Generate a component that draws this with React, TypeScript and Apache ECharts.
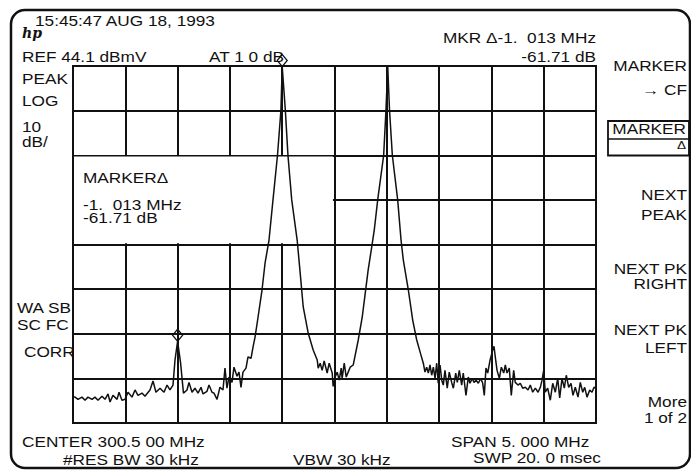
import React, { useEffect, useRef } from "react";
import * as echarts from "echarts";

// Frequency axis (MHz): CENTER 300.5 MHz, SPAN 5 MHz, 10 divisions
const freqStartMHz = 298.0;
const freqStopMHz = 303.0;
const freqPerDivMHz = 0.5;

// Amplitude axis: dB relative to REF 44.1 dBmV, 10 dB/div, 8 divisions
const levelTopDb = 0;
const levelBottomDb = -80;
const dbPerDiv = 10;

// Trace
const traceFreqMHz = [
  298.0, 298.019, 298.048, 298.086, 298.115, 298.143, 298.182, 298.21, 298.239, 298.277,
  298.306, 298.335, 298.354, 298.382, 298.421, 298.44, 298.468, 298.497, 298.526, 298.564,
  298.593, 298.621, 298.66, 298.688, 298.736, 298.765, 298.793, 298.832, 298.87, 298.899,
  298.927, 298.956, 298.975, 299.0, 299.028, 299.056, 299.09, 299.109, 299.138, 299.166,
  299.195, 299.224, 299.243, 299.281, 299.3, 299.329, 299.348, 299.377, 299.405, 299.434,
  299.453, 299.472, 299.491, 299.52, 299.539, 299.568, 299.587, 299.606, 299.625, 299.654,
  299.673, 299.702, 299.721, 299.74, 299.769, 299.807, 299.836, 299.874, 299.912, 299.955,
  299.988, 300.0, 300.03, 300.055, 300.091, 300.143, 300.172, 300.201, 300.249, 300.297,
  300.335, 300.344, 300.363, 300.382, 300.401, 300.43, 300.449, 300.478, 300.487, 300.506,
  300.526, 300.545, 300.564, 300.573, 300.593, 300.612, 300.631, 300.65, 300.679, 300.698,
  300.727, 300.765, 300.794, 300.822, 300.851, 300.88, 300.913, 300.97, 300.992, 301.009,
  301.026, 301.053, 301.104, 301.136, 301.158, 301.206, 301.248, 301.286, 301.322, 301.349,
  301.365, 301.381, 301.397, 301.413, 301.429, 301.445, 301.461, 301.477, 301.492, 301.509,
  301.525, 301.54, 301.556, 301.578, 301.597, 301.62, 301.636, 301.659, 301.674, 301.693,
  301.716, 301.731, 301.757, 301.779, 301.795, 301.817, 301.834, 301.853, 301.875, 301.898,
  301.917, 301.932, 301.948, 301.965, 301.987, 302.012, 302.025, 302.037, 302.054, 302.076,
  302.095, 302.118, 302.133, 302.149, 302.171, 302.19, 302.213, 302.228, 302.254, 302.276,
  302.299, 302.324, 302.35, 302.372, 302.395, 302.42, 302.446, 302.468, 302.484, 302.5,
  302.515, 302.538, 302.563, 302.586, 302.611, 302.634, 302.653, 302.675, 302.697, 302.716,
  302.739, 302.761, 302.78, 302.802, 302.828, 302.85, 302.873, 302.892, 302.914, 302.94,
  302.962, 302.981, 303.0,
];
const traceLevelDb = [
  -74.2, -74.2, -74.7, -74.2, -74.9, -74.2, -74.7, -74.2, -74.9, -74.0,
  -74.7, -73.5, -75.3, -73.8, -74.7, -73.1, -74.9, -74.7, -73.1, -74.2,
  -72.6, -73.8, -73.3, -74.0, -72.6, -70.6, -73.1, -72.2, -73.1, -71.5,
  -72.6, -71.5, -65.9, -61.7, -66.4, -73.3, -72.6, -70.9, -73.1, -72.2,
  -73.3, -72.0, -73.5, -72.9, -71.5, -73.1, -73.3, -74.7, -72.0, -72.6,
  -67.7, -72.2, -69.7, -70.9, -67.5, -69.5, -68.6, -72.0, -68.6, -67.7,
  -65.2, -65.5, -63.0, -60.8, -56.3, -50.2, -44.2, -39.0, -30.0, -20.0,
  -9.9, -0.1, -9.9, -20.0, -30.0, -39.0, -46.4, -54.0, -59.9, -63.7,
  -65.9, -67.7, -66.6, -68.2, -66.1, -68.8, -66.6, -68.8, -71.8, -69.7,
  -68.6, -70.4, -67.7, -70.0, -66.6, -69.7, -68.6, -67.5, -67.0, -64.8,
  -61.4, -56.3, -50.9, -45.7, -41.3, -36.8, -30.0, -20.0, -9.9, -0.2,
  -9.9, -20.0, -30.0, -39.0, -43.5, -50.2, -57.0, -61.4, -64.4, -66.6,
  -68.6, -67.5, -68.8, -67.0, -69.3, -67.5, -70.0, -66.6, -71.1, -67.0,
  -70.4, -71.5, -68.2, -72.2, -68.6, -70.9, -72.2, -68.8, -70.9, -68.2,
  -71.5, -68.8, -73.8, -69.7, -71.1, -70.0, -70.9, -70.4, -71.1, -70.0,
  -71.1, -73.8, -67.7, -68.8, -65.9, -63.7, -62.8, -65.2, -68.2, -70.0,
  -67.5, -68.8, -67.0, -68.8, -67.7, -73.8, -68.2, -70.9, -71.5, -71.1,
  -72.2, -72.0, -72.6, -71.5, -73.1, -72.2, -73.1, -72.0, -70.4, -68.2,
  -73.1, -72.2, -74.9, -71.1, -73.1, -70.0, -74.4, -70.0, -72.2, -69.3,
  -72.0, -71.1, -73.8, -72.0, -74.2, -70.9, -73.1, -72.0, -74.2, -72.6,
  -73.1, -72.0, -72.2,
];

// Markers (reference marker on main peak, delta marker on spur)
const markerFreqMHz = [300.0, 299.0];
const markerLevelDb = [-0.1, -61.7];

// Annotation box region inside graticule (data coords)
const boxFreqMHz = [298.0, 300.485];
const boxLevelDb = [-20.3, -39.7];

// Screen annotations
const leftLabels = ["15:45:47 AUG 18, 1993", "REF 44.1 dBmV", "AT 1 0 dB", "PEAK", "LOG", "10", "dB/", "WA SB", "SC FC", "CORR"];
const markerReadout = ["MKR Δ-1.  013 MHz", "-61.71 dB"];
const boxReadout = ["MARKERΔ", "-1.  013 MHz", "-61.71 dB"];
const softkeyLabels = ["MARKER", "→ CF", "MARKER", "Δ", "NEXT", "PEAK", "NEXT PK", "RIGHT", "NEXT PK", "LEFT", "More", "1 of 2"];
const footerLabels = ["CENTER 300.5 00 MHz", "#RES BW 30 kHz", "VBW 30 kHz", "SPAN 5. 000 MHz", "SWP 20. 0 msec"];

const FONT = "'Liberation Sans', Arial, Helvetica, sans-serif";
const SX = 1.23;
const INK = "#111";

function txt(text: string, x: number, y: number, align: string = "left", size: number = 14) {
  return {
    type: "text",
    x,
    y,
    scaleX: SX,
    z: 10,
    silent: true,
    style: {
      text,
      fill: INK,
      fontSize: size,
      fontFamily: FONT,
      align,
      verticalAlign: "top",
    },
  };
}

export default function App() {
  const ref = useRef<HTMLDivElement>(null);
  useEffect(() => {
    if (!ref.current) return;
    const chart = echarts.init(ref.current, null, { renderer: "svg" });
    const trace = traceFreqMHz.map((f, i) => [f, traceLevelDb[i]]);
    const lineStyle = { color: INK, width: 2 };

    const graphics: any[] = [
      {
        type: "rect",
        z: 10,
        silent: true,
        shape: { x: 11, y: 10, width: 679, height: 458, r: 14 },
        style: { fill: "none", stroke: INK, lineWidth: 2.5 },
      },
      {
        type: "rect",
        z: 10,
        silent: true,
        shape: { x: 73, y: 66, width: 523, height: 357 },
        style: { fill: "none", stroke: INK, lineWidth: 2 },
      },
      {
        type: "rect",
        z: 10,
        silent: true,
        shape: { x: 608, y: 121, width: 81, height: 34.5 },
        style: { fill: "none", stroke: INK, lineWidth: 1.8 },
      },
      {
        type: "line",
        z: 10,
        silent: true,
        shape: { x1: 608, y1: 139, x2: 689, y2: 139 },
        style: { stroke: INK, lineWidth: 1.5 },
      },
      {
        type: "text",
        x: 22,
        y: 26,
        z: 10,
        silent: true,
        style: { text: "hp", fill: INK, fontSize: 14, fontStyle: "italic", fontWeight: "bold", fontFamily: "'DejaVu Serif', serif", align: "left", verticalAlign: "top" },
      },
      txt(leftLabels[0], 35, 13.6),
      txt(leftLabels[1], 22, 50),
      txt(leftLabels[2], 209, 50),
      txt(leftLabels[3], 22, 72.3),
      txt(leftLabels[4], 22, 93.6),
      txt(leftLabels[5], 22, 120),
      txt(leftLabels[6], 22, 134.7),
      txt(leftLabels[7], 17, 301),
      txt(leftLabels[8], 17, 318),
      txt(leftLabels[9], 24, 345),
      txt(markerReadout[0], 596, 31, "right"),
      txt(markerReadout[1], 596, 50, "right"),
      txt(boxReadout[0], 83, 170.7),
      txt(boxReadout[1], 83, 198),
      txt(boxReadout[2], 83, 211.5),
      txt(softkeyLabels[0], 687, 59, "right"),
      txt(softkeyLabels[1], 687, 83, "right"),
      txt(softkeyLabels[2], 686, 122.3, "right"),
      txt(softkeyLabels[3], 686, 140, "right", 11),
      txt(softkeyLabels[4], 687, 188, "right"),
      txt(softkeyLabels[5], 687, 208, "right"),
      txt(softkeyLabels[6], 687, 262, "right"),
      txt(softkeyLabels[7], 687, 277.3, "right"),
      txt(softkeyLabels[8], 687, 323, "right"),
      txt(softkeyLabels[9], 687, 341, "right"),
      txt(softkeyLabels[10], 687, 395, "right"),
      txt(softkeyLabels[11], 687, 411, "right"),
      txt(footerLabels[0], 22, 435),
      txt(footerLabels[1], 63, 453),
      txt(footerLabels[2], 293, 453),
      txt(footerLabels[3], 451, 434.7),
      txt(footerLabels[4], 473, 451),
    ];

    chart.setOption({
      animation: false,
      backgroundColor: "#fff",
      grid: { left: 73, top: 66, width: 523, height: 357, show: false },
      xAxis: {
        type: "value",
        min: freqStartMHz,
        max: freqStopMHz,
        interval: freqPerDivMHz,
        axisLine: { show: false },
        axisTick: { show: false },
        axisLabel: { show: false },
        splitLine: { show: true, lineStyle },
      },
      yAxis: {
        type: "value",
        min: levelBottomDb,
        max: levelTopDb,
        interval: dbPerDiv,
        axisLine: { show: false },
        axisTick: { show: false },
        axisLabel: { show: false },
        splitLine: { show: true, lineStyle },
      },
      graphic: graphics,
      series: [
        {
          type: "line",
          data: trace,
          symbol: "none",
          z: 2,
          clip: false,
          lineStyle: { color: INK, width: 1.5 },
          markArea: {
            silent: true,
            z: 1,
            itemStyle: { color: "#fff", opacity: 1 },
            data: [[{ coord: [boxFreqMHz[0], boxLevelDb[0]] }, { coord: [boxFreqMHz[1], boxLevelDb[1]] }]],
          },
          markPoint: {
            silent: true,
            symbol: "diamond",
            symbolSize: [10, 12],
            symbolOffset: [0, -6],
            label: { show: false },
            itemStyle: { color: "rgba(255,255,255,0)", borderColor: INK, borderWidth: 1.3 },
            data: markerFreqMHz.map((f, i) => ({ coord: [f, markerLevelDb[i]] })),
          },
        },
      ],
    });
    return () => chart.dispose();
  }, []);
  return (
    <div
      ref={ref}
      style={{ position: "fixed", left: 0, top: 0, width: 691, height: 471, background: "#fff" }}
    />
  );
}
